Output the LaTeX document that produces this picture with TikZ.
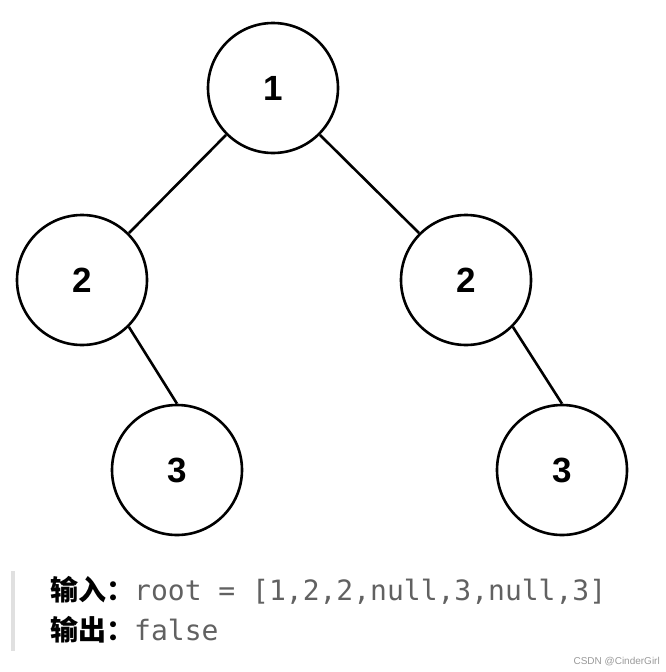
\documentclass[tikz,border=0pt]{standalone}
\usepackage{fontspec}
\setmainfont{Liberation Sans}
\setmonofont{DejaVu Sans Mono}
\newfontfamily\cjk{Noto Sans CJK SC}
\begin{document}
\begin{tikzpicture}[x=1pt,y=-1pt,
  treenode/.style={circle,draw=black,line width=2.6pt,minimum size=130pt,inner sep=0pt,
    font=\fontsize{35}{35}\selectfont\bfseries},
  edge/.style={line width=2.6pt,black},
  info/.style={anchor=base west,inner sep=0pt,font=\fontsize{28}{28}\selectfont}]
\useasboundingbox (0,0) rectangle (666,672);
\node[treenode] (n1) at (273,88) {1};
\node[treenode] (l2) at (82,280) {2};
\node[treenode] (r2) at (466,280) {2};
\node[treenode] (l3) at (177,470) {3};
\node[treenode] (r3) at (562,470) {3};
\draw[edge] (n1.south west) -- (l2.north east);
\draw[edge] (n1.south east) -- (r2.north west);
\draw[edge] (l2.south east) -- (l3.north);
\draw[edge] (r2.south east) -- (r3.north);
\fill[black!12] (11,571) rectangle (15,651);
\node[info] (in) at (50,600) {{\cjk\bfseries 输入：}{\ttfamily\color{black!62}root = [1,2,2,null,3,null,3]}};
\node[info] (out) at (50,640) {{\cjk\bfseries 输出：}{\ttfamily\color{black!62}false}};
\node[anchor=base east,inner sep=0pt,font=\fontsize{10}{10}\selectfont,text=black!40] (wm) at (660,664) {CSDN @CinderGirl};
\end{tikzpicture}
\end{document}
